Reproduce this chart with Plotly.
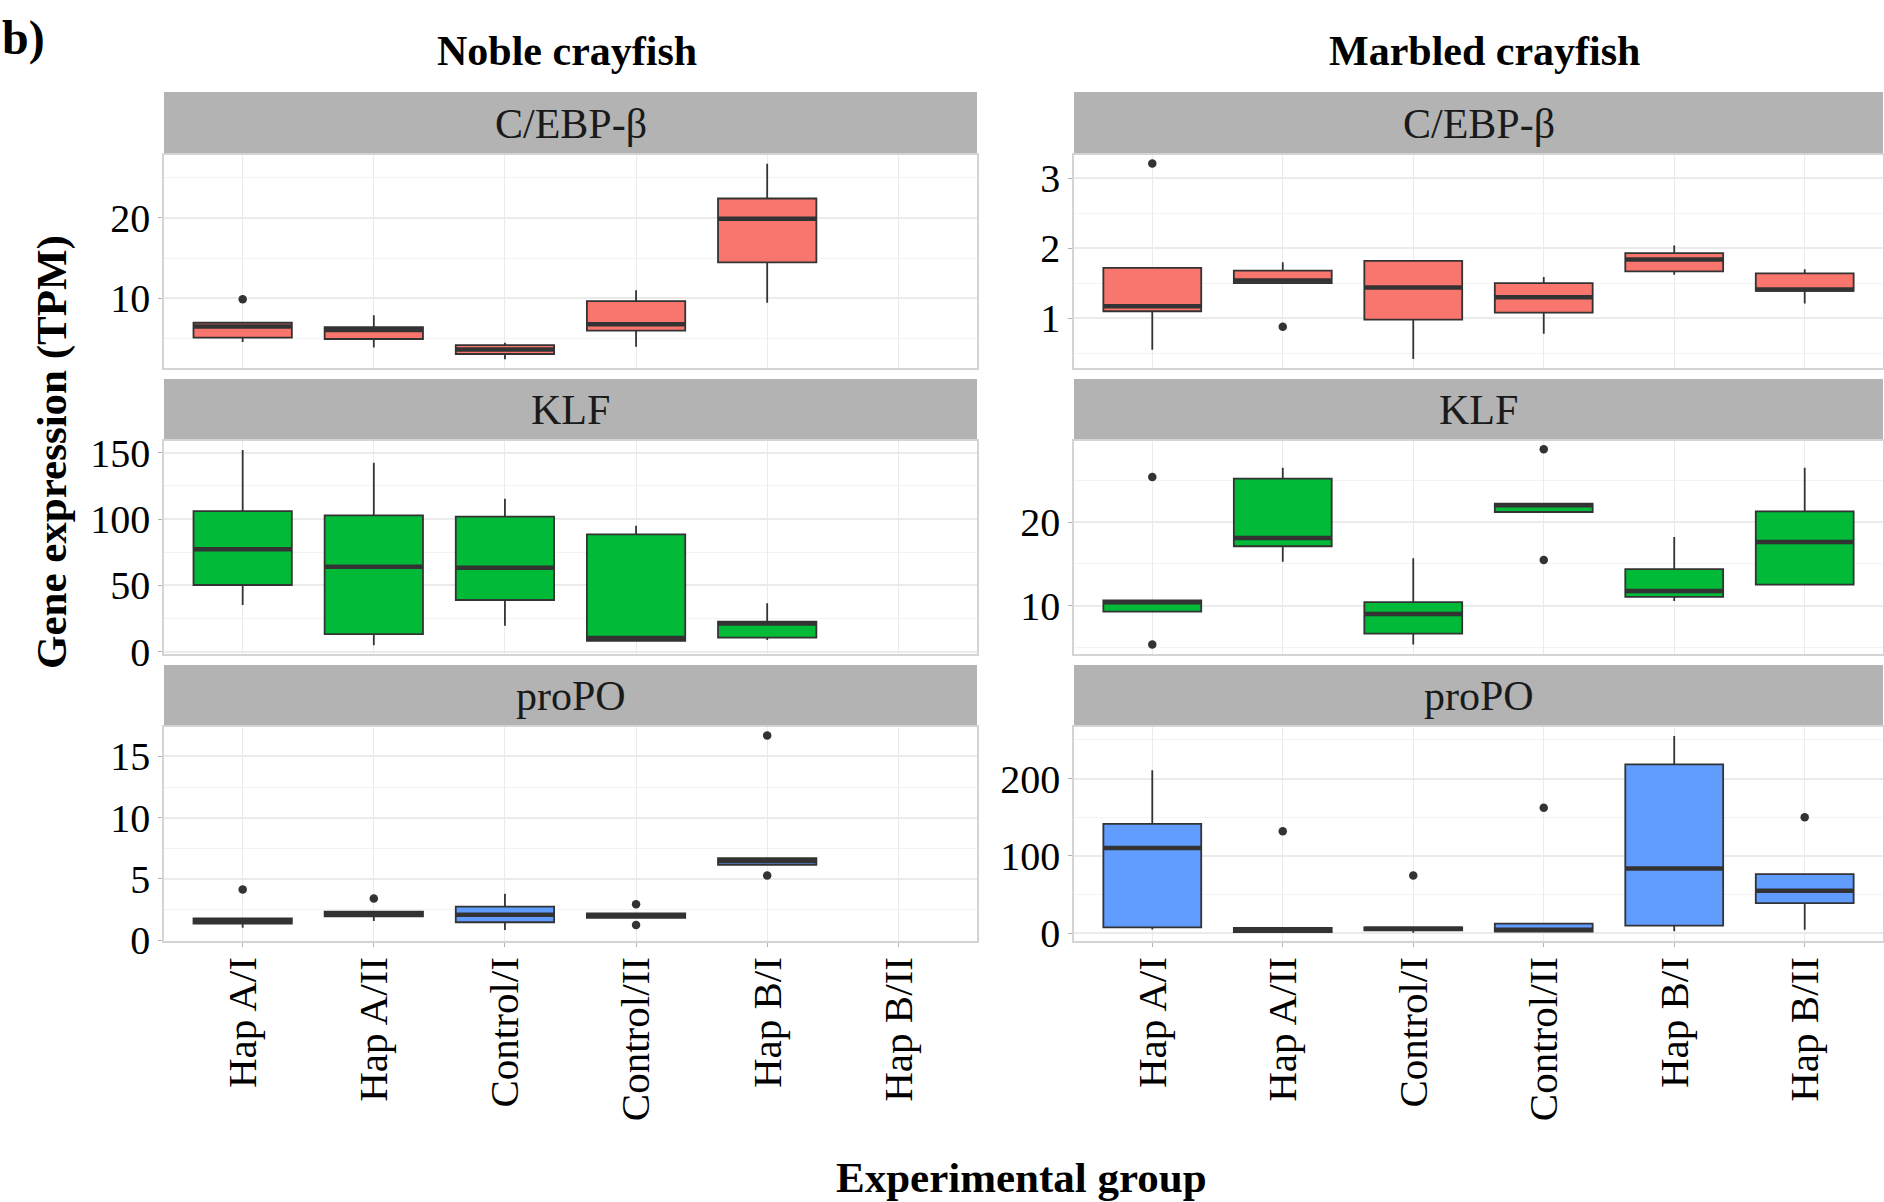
import plotly.graph_objects as go

# ---------------- data ----------------
groups = ["Hap A/I", "Hap A/II", "Control/I", "Control/II", "Hap B/I", "Hap B/II"]

# Noble crayfish - C/EBP-beta (no Hap B/II data)
noble_cebp_low = [4.6, 3.9, 2.44, 4.0, 9.45]
noble_cebp_q1 = [5.12, 4.96, 3.1, 5.99, 14.46]
noble_cebp_med = [6.5, 6.07, 3.67, 6.8, 19.9]
noble_cebp_q3 = [6.98, 6.44, 4.2, 9.67, 22.4]
noble_cebp_up = [6.98, 7.9, 4.5, 11.0, 26.7]
noble_cebp_out_g = ["Hap A/I"]
noble_cebp_out_v = [9.9]

# Noble crayfish - KLF
noble_klf_low = [35.2, 4.8, 19.6, 8.3, 8.8]
noble_klf_q1 = [50.3, 13.3, 39.0, 8.3, 10.6]
noble_klf_med = [77.2, 64.1, 63.3, 10.3, 21.3]
noble_klf_q3 = [106.0, 102.8, 101.8, 88.5, 22.6]
noble_klf_up = [152.0, 142.5, 115.3, 95.0, 36.5]
noble_klf_out_g = []
noble_klf_out_v = []

# Noble crayfish - proPO
noble_propo_low = [1.03, 1.57, 0.84, 1.82, 6.16]
noble_propo_q1 = [1.36, 1.95, 1.47, 1.82, 6.16]
noble_propo_med = [1.57, 2.17, 2.09, 2.04, 6.46]
noble_propo_q3 = [1.79, 2.34, 2.74, 2.2, 6.7]
noble_propo_up = [1.79, 2.34, 3.8, 2.2, 6.7]
noble_propo_out_g = ["Hap A/I", "Hap A/II", "Control/II", "Control/II", "Hap B/I", "Hap B/I"]
noble_propo_out_v = [4.15, 3.4, 2.93, 1.25, 16.7, 5.29]

# Marbled crayfish - C/EBP-beta
marbled_cebp_low = [0.55, 1.50, 0.42, 0.78, 1.62, 1.21]
marbled_cebp_q1 = [1.10, 1.50, 0.98, 1.08, 1.67, 1.39]
marbled_cebp_med = [1.17, 1.54, 1.44, 1.30, 1.84, 1.41]
marbled_cebp_q3 = [1.72, 1.68, 1.82, 1.50, 1.93, 1.64]
marbled_cebp_up = [1.72, 1.80, 1.83, 1.59, 2.04, 1.70]
marbled_cebp_out_g = ["Hap A/I", "Hap A/II"]
marbled_cebp_out_v = [3.21, 0.88]

# Marbled crayfish - KLF
marbled_klf_low = [9.27, 15.25, 5.33, 21.2, 10.55, 12.5]
marbled_klf_q1 = [9.27, 17.1, 6.65, 21.2, 11.03, 12.5]
marbled_klf_med = [10.4, 18.1, 9.0, 22.0, 11.75, 17.6]
marbled_klf_q3 = [10.63, 25.2, 10.4, 22.2, 14.37, 21.27]
marbled_klf_up = [10.63, 26.5, 15.65, 22.2, 18.2, 26.5]
marbled_klf_out_g = ["Hap A/I", "Hap A/I", "Control/II", "Control/II"]
marbled_klf_out_v = [25.4, 5.33, 28.7, 15.45]

# Marbled crayfish - proPO
marbled_propo_low = [4.8, 1.7, 0.8, 2.1, 2.6, 4.7]
marbled_propo_q1 = [7.8, 1.7, 3.9, 2.1, 9.9, 39.0]
marbled_propo_med = [110.4, 4.7, 6.0, 4.7, 83.9, 55.0]
marbled_propo_q3 = [141.5, 6.9, 7.8, 12.5, 218.2, 76.6]
marbled_propo_up = [210.8, 6.9, 7.8, 12.5, 255.0, 76.6]
marbled_propo_out_g = ["Hap A/II", "Control/I", "Control/II", "Hap B/II"]
marbled_propo_out_v = [132.0, 74.8, 162.3, 150.0]

# ---------------- style ----------------
W, H = 1884, 1202
FONT = "Liberation Serif"
RED, GREEN, BLUE = "#F8766D", "#00BA38", "#619CFF"
EDGE = "#333333"
BOXW = 0.75

col_x = [(164, 977), (1074, 1883)]
row_plot = [(155, 368), (441, 654), (727, 941)]
row_strip = [(92, 155), (379, 441), (665, 727)]

def px_x(p):
    return p / W

def px_y(p):
    return 1 - p / H

panels = [
    (0, 0, noble_cebp_low, noble_cebp_q1, noble_cebp_med, noble_cebp_q3, noble_cebp_up,
     noble_cebp_out_g, noble_cebp_out_v, RED, "C/EBP-β", [1.36, 27.8], [10, 20], [5, 15, 25]),
    (0, 1, marbled_cebp_low, marbled_cebp_q1, marbled_cebp_med, marbled_cebp_q3, marbled_cebp_up,
     marbled_cebp_out_g, marbled_cebp_out_v, RED, "C/EBP-β", [0.29, 3.33], [1, 2, 3], [0.5, 1.5, 2.5]),
    (1, 0, noble_klf_low, noble_klf_q1, noble_klf_med, noble_klf_q3, noble_klf_up,
     noble_klf_out_g, noble_klf_out_v, GREEN, "KLF", [-1.7, 158.8], [0, 50, 100, 150], [25, 75, 125]),
    (1, 1, marbled_klf_low, marbled_klf_q1, marbled_klf_med, marbled_klf_q3, marbled_klf_up,
     marbled_klf_out_g, marbled_klf_out_v, GREEN, "KLF", [4.2, 29.7], [10, 20], [5, 15, 25]),
    (2, 0, noble_propo_low, noble_propo_q1, noble_propo_med, noble_propo_q3, noble_propo_up,
     noble_propo_out_g, noble_propo_out_v, BLUE, "proPO", [-0.06, 17.4], [0, 5, 10, 15], [2.5, 7.5, 12.5]),
    (2, 1, marbled_propo_low, marbled_propo_q1, marbled_propo_med, marbled_propo_q3, marbled_propo_up,
     marbled_propo_out_g, marbled_propo_out_v, BLUE, "proPO", [-9.9, 266.6], [0, 100, 200], [50, 150, 250]),
]

fig = go.Figure()
shapes = []
annotations = []
layout_axes = {}

for k, (r, c, low, q1, med, q3, up, og, ov, color, strip, yr, ticks, minor) in enumerate(panels):
    n = k + 1
    xa = "x" if n == 1 else f"x{n}"
    ya = "y" if n == 1 else f"y{n}"
    xs = list(range(1, len(med) + 1))
    fig.add_trace(go.Box(
        x=xs, q1=q1, median=med, q3=q3, lowerfence=low, upperfence=up,
        width=BOXW, whiskerwidth=0, fillcolor=color,
        line=dict(color=EDGE, width=1.8), boxpoints=False,
        xaxis=xa, yaxis=ya, showlegend=False, hoverinfo="skip",
    ))
    mx, my = [], []
    for i, m in enumerate(med):
        mx += [i + 1 - BOXW / 2, i + 1 + BOXW / 2, None]
        my += [m, m, None]
    fig.add_trace(go.Scatter(x=mx, y=my, mode="lines", line=dict(color=EDGE, width=4.5),
                             xaxis=xa, yaxis=ya, showlegend=False, hoverinfo="skip"))
    if og:
        fig.add_trace(go.Scatter(x=[groups.index(g) + 1 for g in og], y=ov, mode="markers",
                                 marker=dict(color=EDGE, size=8.5),
                                 xaxis=xa, yaxis=ya, showlegend=False, hoverinfo="skip"))

    x0, x1 = col_x[c]
    p0, p1 = row_plot[r]
    s0, s1 = row_strip[r]
    layout_axes["xaxis" if n == 1 else f"xaxis{n}"] = dict(
        domain=[px_x(x0), px_x(x1)], anchor=ya, range=[0.4, 6.6], automargin=False,
        tickmode="array", tickvals=list(range(1, 7)), ticktext=groups,
        showticklabels=(r == 2), tickangle=-90, ticklabeloverflow="allow",
        ticklabelstandoff=-6,
        tickfont=dict(family=FONT, size=41, color="#000000"),
        ticks="outside" if r == 2 else "", ticklen=4, tickcolor="#B3B3B3",
        showgrid=True, gridcolor="#EBEBEB", gridwidth=1, zeroline=False,
        showline=True, mirror=True, linecolor="#D4D4D4", linewidth=1.5,
    )
    layout_axes["yaxis" if n == 1 else f"yaxis{n}"] = dict(
        domain=[px_y(p1), px_y(p0)], anchor=xa, range=yr, automargin=False,
        tickmode="array", tickvals=ticks, ticklabeloverflow="allow",
        tickfont=dict(family=FONT, size=40, color="#000000"),
        ticks="outside", ticklen=4, tickcolor="#B3B3B3",
        showgrid=True, gridcolor="#EBEBEB", gridwidth=2, zeroline=False,
        minor=dict(tickvals=minor, showgrid=True, gridcolor="#F3F3F3", gridwidth=1, ticks=""),
        showline=True, mirror=True, linecolor="#D4D4D4", linewidth=1.5,
    )
    shapes.append(dict(type="rect", xref="paper", yref="paper",
                       x0=px_x(x0), x1=px_x(x1), y0=px_y(s1), y1=px_y(s0),
                       fillcolor="#B3B3B3", line=dict(width=0), layer="below"))
    annotations.append(dict(text=strip, xref="paper", yref="paper",
                            x=px_x((x0 + x1) / 2), y=px_y((s0 + s1) / 2),
                            xanchor="center", yanchor="middle", showarrow=False,
                            font=dict(family=FONT, size=42, color="#1A1A1A")))

annotations += [
    dict(text="<b>b)</b>", xref="paper", yref="paper", x=0, y=px_y(38),
         xanchor="left", yanchor="middle", showarrow=False,
         font=dict(family=FONT, size=48, color="#000000")),
    dict(text="<b>Noble crayfish</b>", xref="paper", yref="paper",
         x=px_x(567), y=px_y(51),
         xanchor="center", yanchor="middle", showarrow=False,
         font=dict(family=FONT, size=42, color="#000000")),
    dict(text="<b>Marbled crayfish</b>", xref="paper", yref="paper",
         x=px_x(1484), y=px_y(51),
         xanchor="center", yanchor="middle", showarrow=False,
         font=dict(family=FONT, size=42, color="#000000")),
    dict(text="<b>Experimental group</b>", xref="paper", yref="paper",
         x=px_x(1021), y=px_y(1177),
         xanchor="center", yanchor="middle", showarrow=False,
         font=dict(family=FONT, size=43, color="#000000")),
    dict(text="<b>Gene expression (TPM)</b>", xref="paper", yref="paper",
         x=px_x(52), y=px_y(452), textangle=-90,
         xanchor="center", yanchor="middle", showarrow=False,
         font=dict(family=FONT, size=43, color="#000000")),
]

fig.update_layout(
    width=W, height=H, margin=dict(l=0, r=0, t=0, b=0, autoexpand=False),
    paper_bgcolor="white", plot_bgcolor="white",
    shapes=shapes, annotations=annotations, showlegend=False,
    **layout_axes,
)

fig.write_html("out.html", config={"displayModeBar": False},
               post_script="document.body.style.margin='0';document.body.style.overflow='hidden';")
